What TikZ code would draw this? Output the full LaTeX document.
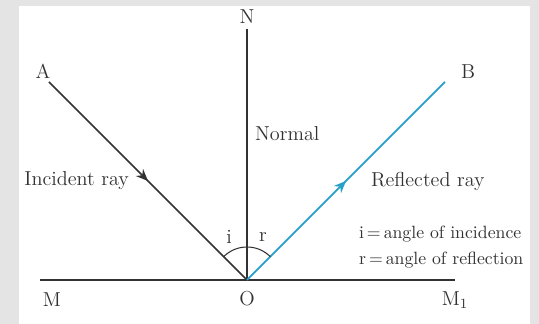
\documentclass[tikz,border=0pt]{standalone}
\usepackage{tikz}
\usetikzlibrary{arrows.meta,positioning,decorations.markings}
\definecolor{panelgray}{RGB}{228,228,228}
\definecolor{inkgray}{RGB}{50,50,50}
\definecolor{raycyan}{RGB}{38,160,200}
\tikzset{
  ray/.style={line width=1pt, draw=inkgray},
  reflray/.style={ray, draw=raycyan},
  midarrow/.style={postaction={decorate},
                   decoration={markings, mark=at position #1 with {\arrow{Stealth[length=2.4mm,width=2mm]}}}},
  lbl/.style={font=\fontsize{11.5}{13}\selectfont, text=inkgray, inner sep=1pt},
  deflbl/.style={lbl, font=\fontsize{10.1}{12}\selectfont}
}
\begin{document}
\begin{tikzpicture}[x=0.02cm, y=0.02cm]
  % background and panel
  \fill[panelgray] (0,0) rectangle (539,324);
  \fill[white] (19,0) rectangle (530,318);
  \useasboundingbox (0,0) rectangle (539,324);

  % points
  \coordinate (O) at (247,44);
  \coordinate (A) at (49,242);
  \coordinate (B) at (445,242);
  \coordinate (N) at (247,295);
  \coordinate (M) at (40,44);
  \coordinate (M1) at (455,44);

  % mirror, normal and rays
  \draw[ray] (M) -- (M1);
  \draw[ray, line width=0.8pt] (O) -- (N);
  \draw[ray, midarrow=0.5] (A) -- (O);
  \draw[reflray, midarrow=0.5] (O) -- (B);
  \draw[inkgray, line width=0.6pt] ([shift={(135:33)}]O) arc[start angle=135, end angle=45, radius=33];

  % labels
  \node[lbl, above left=1pt and -2pt of A] (Alab) {A};
  \node[lbl, above right=1pt and 8pt of B] (Blab) {B};
  \node[lbl, above=2pt of N] (Nlab) {N};
  \node[lbl, anchor=west] (normal) at (253,190) {Normal};
  \node[lbl, anchor=east] (incident) at (131,143) {Incident ray};
  \node[lbl, anchor=west] (reflected) at (369,143) {Reflected ray};
  \node[lbl] (ilab) at (229,87) {i};
  \node[lbl] (rlab) at (263,87) {r};
  \node[deflbl, anchor=west] (idef) at (357,90) {i\,=\,angle of incidence};
  \node[deflbl, below right=3pt and 0pt of idef.south west] (rdef) {r\,=\,angle of reflection};
  \node[lbl] (Mlab) at (52,24) {M};
  \node[lbl, below=5pt of O] (Olab) {O};
  \node[lbl] (M1lab) at (455,24) {M$_1$};
\end{tikzpicture}
\end{document}
